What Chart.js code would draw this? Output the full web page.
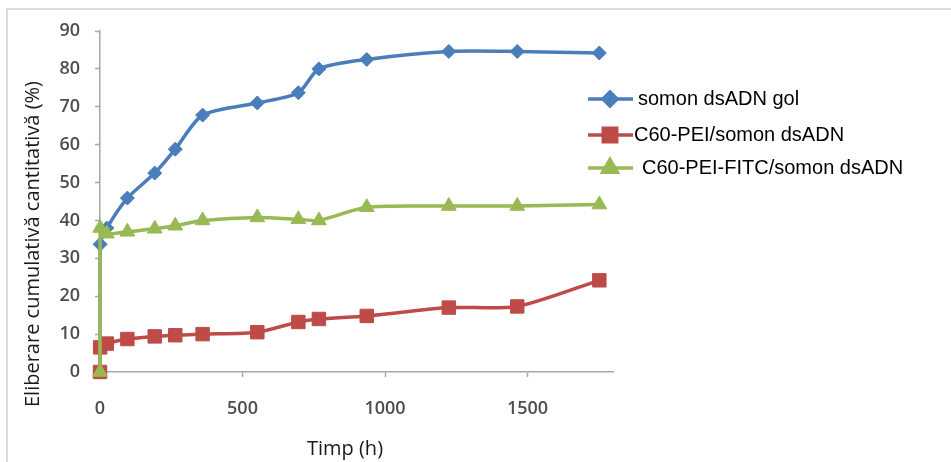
<!DOCTYPE html>
<html>
<head>
<meta charset="utf-8">
<script src="https://cdn.jsdelivr.net/npm/chart.js@4"></script>
<style>
  html, body { margin: 0; padding: 0; background: #fff; }
  #wrap { width: 951px; height: 462px; position: relative; }
</style>
</head>
<body>
<div id="wrap"><canvas id="releaseChart" width="951" height="462"></canvas></div>
<script>
// time points (h)
const hours = [0, 0.5, 24, 96, 192, 264, 360, 552, 696, 768, 936, 1224, 1464, 1752];
const seriesNames = ['somon dsADN gol', 'C60-PEI/somon dsADN', 'C60-PEI-FITC/somon dsADN'];
const freeDna = [0, 33.7, 38, 45.9, 52.5, 58.8, 67.8, 71, 73.7, 80, 82.5, 84.6, 84.6, 84.2];
const peiDna = [0, 6.5, 7.5, 8.7, 9.4, 9.7, 10, 10.5, 13.2, 14, 14.8, 17, 17.3, 24.2];
const fitcDna = [0, 38, 36.5, 37, 37.8, 38.6, 40, 40.8, 40.3, 40, 43.5, 43.8, 43.8, 44.2];
const xTicks = [0, 500, 1000, 1500];
const yTicks = [0, 10, 20, 30, 40, 50, 60, 70, 80, 90];
const xTitle = 'Timp (h)';
const yTitle = 'Eliberare cumulativă cantitativă (%)';

const axisGray = '#a6a6a6';
const tickFont = { family: 'Open Sans', size: 18, weight: '600' };

function toPoints(vals) {
  return hours.map((h, i) => ({ x: h, y: vals[i] }));
}

// order: later series sit on top, like in Excel
const styles = [
  { color: '#4a7ebb', point: 'rectRot', radius: 7, order: 3 },
  { color: '#be4b48', point: 'rect', radius: 9.5, order: 2 },
  { color: '#98b954', point: 'triangle', radius: 8.5, order: 1 }
];

// legend rows drawn by hand to keep the Excel-like spacing
const legendRows = [
  { y: 99, textX: 638 },
  { y: 135, textX: 634 },
  { y: 168, textX: 642 }
];

const decorPlugin = {
  id: 'decor',
  beforeDraw(chart) {
    const ctx = chart.ctx;
    ctx.save();
    ctx.fillStyle = '#fff';
    ctx.fillRect(0, 0, chart.width, chart.height);
    ctx.strokeStyle = '#dcdcdc';
    ctx.lineWidth = 2;
    ctx.beginPath();
    ctx.moveTo(7, chart.height);
    ctx.lineTo(7, 9);
    ctx.lineTo(chart.width, 9);
    ctx.stroke();
    ctx.restore();
  },
  afterDraw(chart) {
    const ctx = chart.ctx;
    ctx.save();
    // axis titles
    ctx.fillStyle = '#1a1a1a';
    ctx.font = '20px "Open Sans"';
    ctx.textAlign = 'center';
    ctx.textBaseline = 'middle';
    ctx.fillText(xTitle, 345, 449);
    ctx.translate(33, 244);
    ctx.rotate(-Math.PI / 2);
    ctx.fillText(yTitle, 0, 0);
    ctx.restore();

    // legend
    ctx.save();
    chart.data.datasets.forEach((ds, i) => {
      const row = legendRows[i];
      ctx.strokeStyle = ds.borderColor;
      ctx.lineWidth = 3.5;
      ctx.beginPath();
      ctx.moveTo(588, row.y);
      ctx.lineTo(633, row.y);
      ctx.stroke();
      Chart.helpers.drawPoint(ctx, {
        pointStyle: ds.pointStyle,
        radius: ds.pointRadius,
        rotation: 0,
        borderWidth: 1
      }, 610, row.y);
      ctx.fillStyle = ds.borderColor;
      ctx.strokeStyle = ds.borderColor;
      ctx.fill();
      ctx.fillStyle = '#000';
      ctx.font = '20px "Liberation Sans"';
      ctx.textAlign = 'left';
      ctx.textBaseline = 'middle';
      ctx.fillText(ds.label, row.textX, row.y);
    });
    ctx.restore();
  }
};

const datasets = [freeDna, peiDna, fitcDna].map((vals, i) => ({
  label: seriesNames[i],
  data: toPoints(vals),
  order: styles[i].order,
  borderColor: styles[i].color,
  backgroundColor: styles[i].color,
  pointBackgroundColor: styles[i].color,
  pointBorderColor: styles[i].color,
  pointStyle: styles[i].point,
  pointRadius: styles[i].radius,
  pointBorderWidth: 1,
  borderWidth: 3.5,
  tension: 0.25,
  clip: false
}));

new Chart(document.getElementById('releaseChart'), {
  type: 'line',
  data: { datasets },
  options: {
    responsive: false,
    animation: false,
    events: [],
    layout: { padding: { top: 31, right: 338, bottom: 0, left: 0 } },
    plugins: {
      legend: { display: false },
      tooltip: { enabled: false }
    },
    scales: {
      x: {
        type: 'linear',
        min: 0,
        max: 1800,
        afterBuildTicks: s => { s.ticks = xTicks.map(v => ({ value: v })); },
        afterFit: s => { s.height = 90; },
        grid: { drawOnChartArea: false, tickLength: 5, tickColor: axisGray, tickWidth: 1.5 },
        border: { color: axisGray, width: 1.5 },
        ticks: { color: '#4d4d4d', font: tickFont, padding: 21, maxRotation: 0, callback: v => String(v) }
      },
      y: {
        min: 0,
        max: 90,
        afterBuildTicks: s => { s.ticks = yTicks.map(v => ({ value: v })); },
        afterFit: s => { s.width = 100; },
        grid: { drawOnChartArea: false, tickLength: 5, tickColor: axisGray, tickWidth: 1.5 },
        border: { color: axisGray, width: 1.5 },
        ticks: { color: '#4d4d4d', font: tickFont, padding: 15, callback: v => String(v) }
      }
    }
  },
  plugins: [decorPlugin]
});
</script>
</body>
</html>
